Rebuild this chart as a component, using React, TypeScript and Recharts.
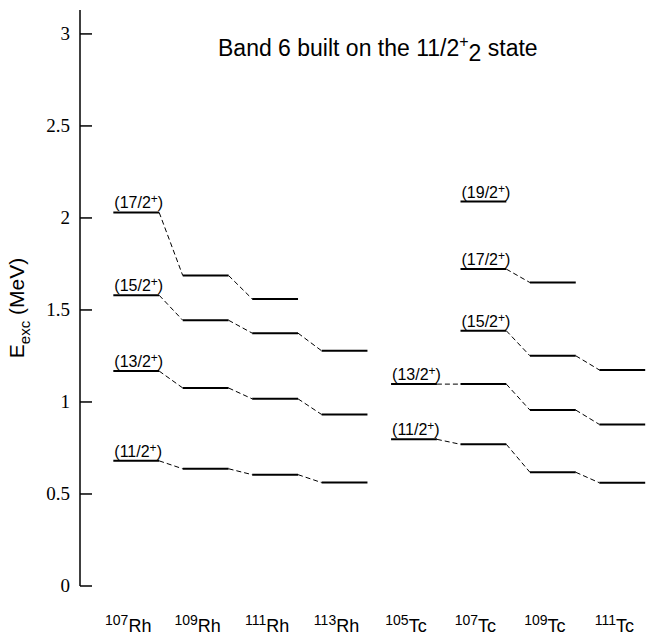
import React from 'react';
import { ComposedChart, Line, XAxis, YAxis } from 'recharts';

// nuclei along the x axis
const massNumbers = ['107', '109', '111', '113', '105', '107', '109', '111'];
const elements = ['Rh', 'Rh', 'Rh', 'Rh', 'Tc', 'Tc', 'Tc', 'Tc'];

// level energies (MeV) for each spin, null where the level is not seen
const spins = ['11/2', '13/2', '15/2', '17/2', '19/2'];
const e11: (number | null)[] = [0.68, 0.637, 0.605, 0.562, 0.797, 0.77, 0.618, 0.561];
const e13: (number | null)[] = [1.168, 1.076, 1.017, 0.932, 1.097, 1.097, 0.956, 0.878];
const e15: (number | null)[] = [1.58, 1.444, 1.374, 1.278, null, 1.387, 1.251, 1.174];
const e17: (number | null)[] = [2.03, 1.687, 1.56, null, null, 1.722, 1.649, null];
const e19: (number | null)[] = [null, null, null, null, null, 2.089, null, null];
const levels = [e11, e13, e15, e17, e19];

const yTicks = [0, 0.5, 1, 1.5, 2, 2.5, 3];
const HALF = 0.33;

type Pt = { x: number; y: number | null; tag?: string };

// solid bar for every level, broken by a null point after each one
function levelSegments(energies: (number | null)[], spin: string): Pt[] {
  const pts: Pt[] = [];
  energies.forEach((e, i) => {
    if (e == null) return;
    const prev = i > 0 && elements[i - 1] === elements[i] ? energies[i - 1] : null;
    pts.push({ x: i - HALF, y: e, tag: prev == null ? spin : undefined });
    pts.push({ x: i + HALF, y: e });
    pts.push({ x: i + 0.5, y: null });
  });
  return pts;
}

// dashed links between the same spin in neighbouring isotopes
function levelLinks(energies: (number | null)[]): Pt[] {
  const pts: Pt[] = [];
  for (let i = 0; i < energies.length - 1; i++) {
    const a = energies[i];
    const b = energies[i + 1];
    if (a == null || b == null || elements[i] !== elements[i + 1]) continue;
    pts.push({ x: i + HALF, y: a });
    pts.push({ x: i + 1 - HALF, y: b });
    pts.push({ x: i + 1, y: null });
  }
  return pts;
}

const sans = '"Liberation Sans", Arial, sans-serif';
const serif = '"Liberation Serif", "Times New Roman", serif';

const NucleusTick = (props: any) => {
  const { x, y, payload } = props;
  const i = payload.value;
  return (
    <text x={x - 8} y={y + 38} textAnchor="middle" style={{ fontFamily: sans }} fill="#000">
      <tspan fontSize={14} dy={-7}>{massNumbers[i]}</tspan>
      <tspan fontSize={18} dy={7}>{elements[i]}</tspan>
    </text>
  );
};

const EnergyTick = (props: any) => {
  const { x, y, payload } = props;
  return (
    <g>
      <line x1={x + 10} y1={y} x2={x + 22} y2={y} stroke="#000" strokeWidth={1.5} />
      <text x={x} y={y} dy={6} textAnchor="end" style={{ fontFamily: serif, fontSize: 19 }} fill="#000">
        {payload.value}
      </text>
    </g>
  );
};

const YTitle = (props: any) => {
  const vb = props.viewBox;
  const cx = 24;
  const cy = vb.y + vb.height / 2 + 10;
  return (
    <text
      transform={`translate(${cx},${cy}) rotate(-90)`}
      textAnchor="middle"
      style={{ fontFamily: sans, fontSize: 21 }}
      fill="#000"
    >
      <tspan>E</tspan>
      <tspan fontSize={15} dy={6}>exc</tspan>
      <tspan dy={-6}> (MeV)</tspan>
    </text>
  );
};

function spinLabel(data: Pt[]) {
  return (props: any) => {
    const { x, y, index } = props;
    const tag = data[index]?.tag;
    if (!tag) return null;
    return (
      <text x={x + 1} y={y - 4} style={{ fontFamily: sans, fontSize: 16 }} fill="#000">
        <tspan>({tag}</tspan>
        <tspan fontSize={12} dy={-5}>+</tspan>
        <tspan dy={5}>)</tspan>
      </text>
    );
  };
}

export default function App() {
  return (
    <div style={{ position: 'absolute', left: 0, top: 0, width: 657, height: 637, background: '#fff' }}>
      <ComposedChart width={657} height={637} margin={{ top: 10, right: 0, bottom: 0, left: 0 }}>
        <XAxis
          type="number"
          dataKey="x"
          domain={[-0.81, 7.5]}
          ticks={[0, 1, 2, 3, 4, 5, 6, 7]}
          allowDataOverflow
          axisLine={false}
          tickLine={false}
          tick={<NucleusTick />}
          height={51}
          interval={0}
        />
        <YAxis
          type="number"
          domain={[0, 3.13]}
          ticks={yTicks}
          allowDataOverflow
          width={80}
          axisLine={{ stroke: '#000', strokeWidth: 1.5 }}
          tickLine={false}
          tickSize={0}
          tickMargin={10}
          tick={<EnergyTick />}
          label={<YTitle />}
        />
        {levels.map((lv, k) => (
          <Line
            key={`link-${k}`}
            data={levelLinks(lv)}
            dataKey="y"
            stroke="#000"
            strokeWidth={1}
            strokeDasharray="5 3"
            dot={false}
            activeDot={false}
            connectNulls={false}
            isAnimationActive={false}
          />
        ))}
        {levels.map((lv, k) => {
          const segs = levelSegments(lv, spins[k]);
          return (
            <Line
              key={`level-${k}`}
              data={segs}
              dataKey="y"
              stroke="#000"
              strokeWidth={2}
              dot={false}
              activeDot={false}
              connectNulls={false}
              isAnimationActive={false}
              label={spinLabel(segs)}
            />
          );
        })}
      </ComposedChart>
      <div
        style={{
          position: 'absolute',
          left: 218,
          top: 30,
          fontFamily: sans,
          fontSize: 23,
          color: '#000',
          whiteSpace: 'nowrap',
          lineHeight: '24px',
        }}
      >
        Band 6 built on the 11/2<sup style={{ fontSize: 16 }}>+</sup>
        <sub style={{ fontSize: 23 }}>2</sub> state
      </div>
    </div>
  );
}
